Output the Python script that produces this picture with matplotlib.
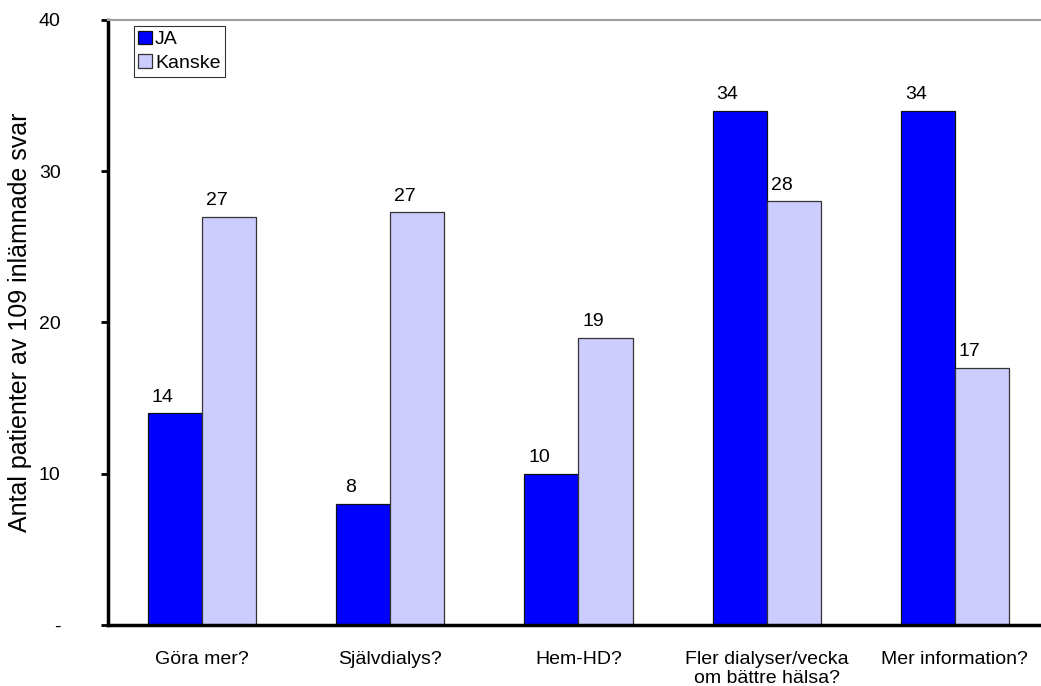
import numpy as np
import matplotlib.pyplot as plt

# ---------- data ----------
categories = ["Göra mer?", "Självdialys?", "Hem-HD?",
              "Fler dialyser/vecka\nom bättre hälsa?", "Mer information?"]
ja_values = [14, 8, 10, 34, 34]
kanske_values = [27, 27.3, 19, 28, 17]
series_names = ["JA", "Kanske"]
ytick_values = [0, 10, 20, 30, 40]
ytick_labels = ["-", "10", "20", "30", "40"]

plt.rcParams["font.family"] = ["Liberation Sans", "DejaVu Sans"]
FS = 14

fig = plt.figure(figsize=(10.41, 6.86), dpi=100)
# plot area runs a bit past the right edge of the figure, like the original
ax = fig.add_axes([0.1037, 0.0889, 0.904, 0.882])

x = np.arange(len(categories))
w = 0.287
bars_ja = ax.bar(x - w / 2, ja_values, w, color="#0000FF",
                 edgecolor="#111111", linewidth=0.9, label=series_names[0])
bars_k = ax.bar(x + w / 2, kanske_values, w, color="#CCCCFF",
                edgecolor="#333333", linewidth=0.9, label=series_names[1])

# value labels (sit slightly left of bar centre)
for bars in (bars_ja, bars_k):
    for b in bars:
        h = b.get_height()
        ax.text(b.get_x() + b.get_width() / 2 - 0.065, h + 0.5, f"{h:.0f}",
                ha="center", va="bottom", fontsize=FS)

ax.set_xlim(-0.5, len(categories) - 0.5)
ax.set_ylim(0, 40)
ax.set_yticks(ytick_values)
ax.set_yticklabels(ytick_labels, fontsize=FS)
ax.set_xticks(x)
ax.set_xticklabels(categories, fontsize=FS, linespacing=1.15)
ax.tick_params(axis="x", length=0, pad=19)
ax.tick_params(axis="y", length=5, width=2, pad=29, direction="out")

ax.set_ylabel("Antal patienter av 109 inlämnade svar", fontsize=18, labelpad=0)
ax.yaxis.set_label_coords(-0.081, 0.5)

for side in ("left", "bottom"):
    ax.spines[side].set_linewidth(2.5)
    ax.spines[side].set_color("black")
ax.spines["top"].set_color("#A0A0A0")
ax.spines["top"].set_linewidth(1.5)
ax.spines["right"].set_visible(False)

leg = ax.legend(loc="upper left", bbox_to_anchor=(0.021, 1.0), fontsize=FS,
                frameon=True, fancybox=False, edgecolor="black",
                handlelength=0.7, handleheight=0.7, handletextpad=0.15,
                borderpad=0.25, labelspacing=0.3, borderaxespad=0.3)
leg.get_frame().set_linewidth(0.8)

fig.savefig("out.png", dpi=100)
